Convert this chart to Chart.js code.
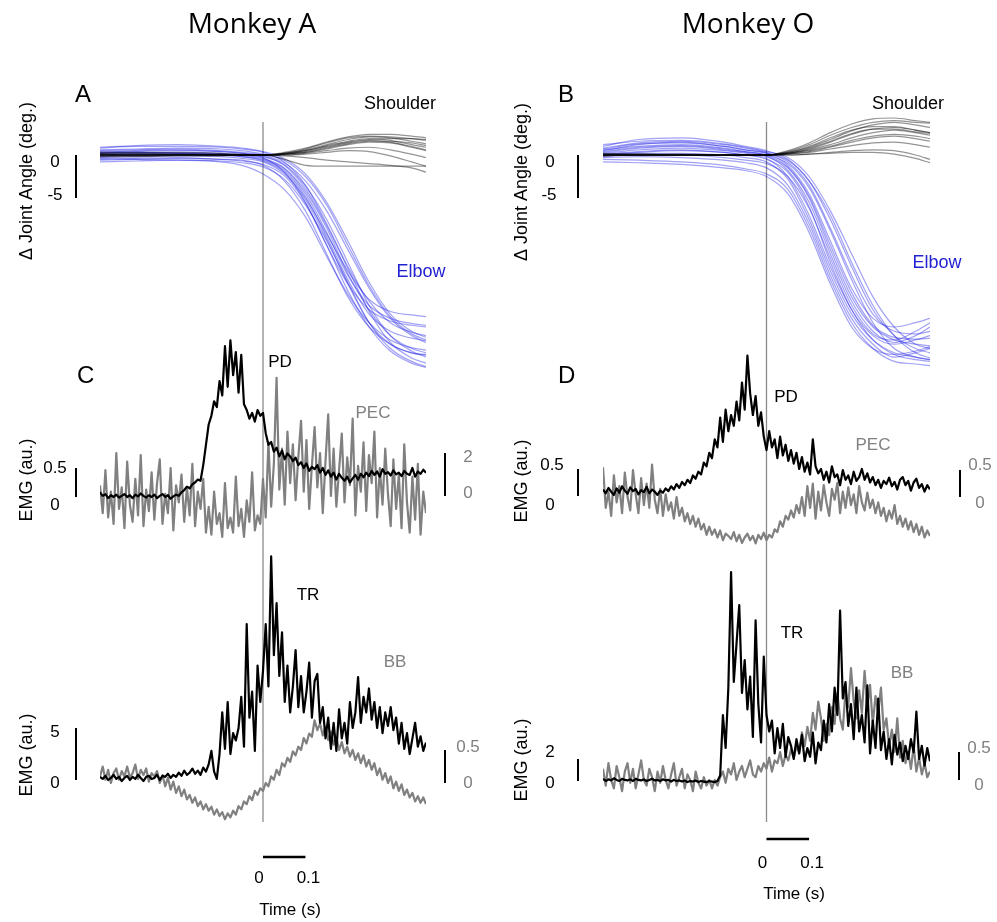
<!DOCTYPE html>
<html><head><meta charset="utf-8">
<script src="https://cdn.jsdelivr.net/npm/chart.js@4.4.1/dist/chart.umd.min.js"></script>
<style>
html,body{margin:0;padding:0;background:#fff;}
#wrap{position:relative;width:997px;height:922px;overflow:hidden;background:#fff;}
canvas{position:absolute;top:0;}
</style></head><body>
<div id="wrap">
<canvas id="cA" width="498" height="922" style="left:0;width:498px;height:922px"></canvas>
<canvas id="cO" width="499" height="922" style="left:498px;width:499px;height:922px"></canvas>
</div>
<script>
// ---------------- DATA ----------------
// joint-angle sample times (s) and traces (deg)
const ANGLE_T = [-0.384,-0.3,-0.2,-0.1,-0.05,0,0.05,0.1,0.15,0.2,0.25,0.3,0.35,0.384];

const ELBOW_A = [
 [0.3,0.5,0.6,0.4,0.2,-0.3,-2.0,-5.5,-10.5,-15,-18,-19.3,-19.8,-20],
 [-0.5,-0.4,-0.3,-0.5,-0.6,-1.2,-3.0,-6.5,-11.5,-16.5,-20,-22,-23,-23.3],
 [0.8,1.0,1.0,0.9,0.7,0.3,-0.8,-3.5,-8,-13,-17,-19.5,-20.6,-21],
 [0.2,0.3,0.2,0.1,0,-0.4,-1.5,-4.2,-8.5,-13.8,-18,-21,-22.5,-23],
 [-0.2,0,0.1,0,-0.2,-0.6,-1.8,-4.8,-9.5,-14.5,-18.5,-20.5,-21.3,-21.6],
 [0.5,0.6,0.7,0.5,0.3,0,-0.9,-3,-6.5,-11,-15.5,-19,-21,-21.8],
 [-0.8,-0.7,-0.6,-0.7,-0.9,-1.4,-2.8,-5.8,-10,-14.8,-19.5,-22.5,-24,-24.6],
 [0.1,0.2,0.3,0.2,0,-0.2,-1.1,-3.6,-7.5,-12.5,-17.5,-21,-22.8,-23.5],
 [0.4,0.3,0.2,0.1,-0.1,-0.5,-1.6,-4.5,-9,-14,-17.5,-19,-19.6,-19.8],
 [-0.3,-0.2,-0.1,-0.2,-0.4,-0.8,-2.2,-5.2,-9.8,-15,-19.5,-22,-23,-23.2],
 [0.6,0.7,0.8,0.7,0.5,0.1,-0.6,-2.5,-5.8,-10.5,-15.2,-18.8,-20.8,-21.5],
 [0,0.1,0.1,0,-0.2,-0.7,-2.0,-5.0,-9.2,-13.5,-16.8,-18.2,-18.6,-18.8],
 [-0.4,-0.5,-0.6,-0.8,-1.2,-2.2,-4.0,-7.2,-11.8,-16.2,-19.5,-21.5,-22.4,-22.7],
 [0.2,0.4,0.5,0.4,0.2,-0.1,-1.2,-3.9,-8.2,-13.2,-18.2,-21.8,-23.6,-24.2],
 [0.9,1.1,1.2,1.0,0.8,0.4,-0.4,-2.2,-5.5,-10,-14.8,-18.5,-20.5,-21.2],
 [-0.6,-0.5,-0.4,-0.5,-0.7,-1.1,-2.4,-5.6,-10.5,-15.8,-20,-22.8,-24.2,-24.7]
];
const SHOULDER_A = [
 [0,0,0,0,0,0,0.2,0.6,1.2,1.8,2.1,2.0,1.6,1.3],
 [0.1,0.1,0.1,0,0,0,0.1,0.4,0.9,1.4,1.7,1.5,1.0,0.6],
 [-0.1,-0.1,0,0,0,0,0.3,0.8,1.5,2.1,2.4,2.4,2.2,2.0],
 [0,0,0,0,0,0,0,0.2,0.5,0.8,0.9,0.6,0.1,-0.3],
 [0.2,0.2,0.1,0.1,0,0,0.2,0.5,1.0,1.5,1.8,1.9,1.9,1.8],
 [-0.2,-0.2,-0.1,-0.1,0,0,0,0.1,0.3,0.5,0.4,-0.1,-0.8,-1.3],
 [0,0,0,0,0,0,0.1,0.5,1.1,1.6,1.9,1.7,1.2,0.9],
 [0.3,0.3,0.3,0.2,0.1,0,0.1,0.3,0.7,1.2,1.5,1.4,0.9,0.5],
 [0,0,0,0,0,0,-0.1,-0.3,-0.6,-0.8,-1.0,-1.2,-1.5,-2.0],
 [0,0,0,0,0,0,-0.5,-1.2,-1.3,-1.3,-1.3,-1.3,-1.3,-1.3],
 [-0.1,0,0,0,0,0,0.2,0.7,1.4,2.0,2.2,2.1,1.9,1.7],
 [0.1,0,0,0,0,0,0.1,0.3,0.8,1.3,1.6,1.6,1.4,1.1]
];
const ELBOW_O = [
 [0.5,1.2,1.5,1.0,0.6,0.2,-1.2,-4.5,-10,-15.5,-19,-20,-19.5,-19],
 [0,0.3,0.5,0.3,0,-0.4,-2.5,-7,-13,-18,-21,-22,-21.5,-21],
 [1.0,1.8,2.0,1.5,1.0,0.5,-0.5,-3,-7.5,-13,-18,-21,-22.5,-23],
 [-0.3,-0.2,-0.3,-0.6,-0.9,-1.5,-3.5,-8,-14,-19,-22,-23.5,-23,-22.5],
 [0.2,0.6,0.8,0.5,0.2,-0.2,-1.5,-5,-11,-16.5,-20,-21.5,-22,-22.2],
 [-0.5,-0.6,-0.8,-1.2,-1.6,-2.2,-4.0,-8.5,-14.5,-19.5,-22.5,-24,-24.3,-24.5],
 [0.8,1.4,1.6,1.2,0.8,0.3,-0.8,-3.5,-8.5,-14,-18.5,-20.5,-20.8,-20.5],
 [0.3,0.8,1.0,0.6,0.3,-0.1,-1.8,-5.5,-11.5,-17,-20.5,-21.8,-21,-20],
 [0,0.2,0.2,0,-0.3,-0.8,-2.8,-7.5,-13.5,-18.5,-21.5,-23,-23.5,-23.8],
 [0.6,1.0,1.2,0.8,0.4,0,-1.0,-3.8,-8.8,-14.5,-19.5,-22.5,-23.5,-23.8],
 [-0.2,0,0,-0.3,-0.6,-1.0,-2.5,-6.2,-12,-17.5,-20.8,-21.5,-20.5,-19.5],
 [1.2,1.6,1.7,1.3,0.9,0.4,-0.3,-2.5,-6.5,-11.5,-16.5,-20,-22,-22.5],
 [0.1,0.4,0.6,0.3,0,-0.5,-2.0,-6,-12.5,-18,-21.5,-23.2,-23.8,-24],
 [-0.8,-0.9,-1.1,-1.5,-1.8,-2.5,-4.5,-9,-15,-20,-22.5,-23.2,-22.8,-22.3],
 [0.4,0.9,1.1,0.7,0.4,0,-1.4,-4.8,-10.5,-16,-19.8,-21.2,-21.4,-21.3],
 [0.7,1.3,1.4,1.0,0.6,0.2,-0.6,-3,-7,-12.5,-17.5,-21,-23,-23.6]
];
const SHOULDER_O = [
 [0,0,0,0,0,0,0.3,0.9,1.8,2.8,3.5,3.8,3.5,3.2],
 [0.1,0,0,0,0,0,0.2,0.6,1.2,2.0,2.6,2.9,2.6,2.3],
 [-0.1,0,0,0,0,0,0.4,1.2,2.3,3.2,3.8,4.0,3.8,3.7],
 [0,0,0,0,0,0,0.1,0.3,0.7,1.1,1.4,1.5,1.2,0.9],
 [0.2,0.1,0.1,0,0,0,0.2,0.7,1.5,2.4,3.0,3.2,2.9,2.6],
 [0,0,0,0,0,0,0,0.1,0.2,0.3,0.3,0.1,-0.4,-0.9],
 [0,0,0,0,0,0,0.3,1.0,2.0,2.9,3.3,3.3,2.9,2.6],
 [0.1,0.1,0,0,0,0,0.1,0.4,0.9,1.5,2.0,2.2,1.9,1.6],
 [0,0,0,0,0,0,0,0.1,0.3,0.5,0.6,0.5,0,-0.5],
 [-0.1,0,0,0,0,0,0.2,0.8,1.6,2.5,3.0,3.0,2.7,2.5],
 [0,0,0,0,0,0,0.5,1.4,2.6,3.6,4.2,4.3,4.0,3.8],
 [0,0,0,0,0,0,0.2,0.5,1.0,1.7,2.2,2.4,2.2,1.9]
];

// EMG sampling grid (s)
const EMG_T0 = -0.384;
const EMG_DT = 0.0064;

// Monkey A EMG (au.)
const PD_A = [0.08,0.02,0.05,-0.02,0.03,0.0,0.04,-0.01,0.02,0.05,
0.0,0.03,-0.02,0.04,0.01,0.06,0.02,-0.01,0.03,0.0,
0.04,-0.02,0.02,0.05,0.0,0.03,-0.03,0.01,0.04,0.02,
0.08,0.12,0.18,0.15,0.22,0.25,0.3,0.28,0.55,0.9,
1.25,1.4,1.65,1.55,2.0,1.75,2.6,1.9,2.7,2.1,
2.5,1.8,2.45,1.6,1.5,1.35,1.45,1.3,1.5,1.4,
1.45,1.1,0.9,0.95,0.78,0.85,0.7,0.8,0.65,0.75,
0.7,0.62,0.68,0.55,0.6,0.5,0.58,0.45,0.52,0.48,
0.55,0.42,0.5,0.38,0.46,0.35,0.42,0.3,0.4,0.33,
0.28,0.35,0.25,0.32,0.38,0.3,0.4,0.34,0.42,0.36,
0.45,0.38,0.44,0.35,0.48,0.4,0.43,0.37,0.46,0.39,
0.42,0.36,0.45,0.4,0.38,0.5,0.35,0.44,0.4,0.47,0.42];
const PEC_A = [0.5,-0.8,1.2,-1.0,0.2,-1.3,2.0,-0.6,0.4,-1.5,
1.6,-0.4,-1.2,0.8,-0.9,1.9,-1.4,0.3,-0.7,1.1,
-1.1,0.6,1.7,-1.3,0.1,-0.8,1.3,-1.6,0.5,-0.3,
1.0,-1.2,0.4,-0.9,1.5,-1.4,0.2,-0.6,0.8,-1.7,
-0.5,-1.8,0.2,-1.3,-0.8,-1.9,0.6,-1.5,-1.0,-1.7,
0.9,-1.4,-0.6,-1.9,-0.2,-1.2,1.1,-1.6,-0.9,-1.3,
0.8,-1.0,2.5,-0.5,1.5,5.5,0.3,2.2,-0.4,3.0,
0.6,2.4,-0.2,1.8,3.5,0.2,2.6,-0.6,1.4,3.2,
0.4,2.0,-0.8,1.6,3.8,0.0,2.2,-0.5,1.2,2.9,
-0.3,1.8,0.5,3.6,-0.9,1.4,0.2,2.5,-0.7,1.9,
0.6,3.0,-1.0,1.3,-0.4,2.2,0.1,-1.4,1.7,-0.6,
1.0,-1.5,2.4,-0.3,-1.7,0.9,-1.1,1.5,-1.8,0.2,-0.8];
const TR_A = [0.3,0.1,0.4,0.0,0.2,0.5,0.1,0.3,-0.1,0.2,
0.4,0.0,0.3,0.1,0.5,0.2,-0.1,0.3,0.4,0.1,
0.2,0.5,0.0,0.4,0.3,0.6,0.2,0.5,0.3,0.7,
0.4,0.9,0.5,0.7,1.1,0.6,0.9,0.5,1.2,0.8,
1.5,2.8,0.8,0.1,2.5,6.5,3.0,7.5,2.5,4.5,
3.8,5.0,8.0,3.2,15.0,6.0,8.5,2.8,11.0,7.5,
10.5,15.0,9.0,21.5,12.0,17.0,10.0,14.2,7.5,11.0,
6.5,9.0,12.5,7.0,10.0,6.5,8.5,11.3,6.0,9.5,
10.2,5.5,7.0,4.0,6.0,3.0,5.5,2.8,6.8,4.0,
5.5,3.5,7.5,5.0,6.5,9.9,5.5,8.0,6.5,8.8,
5.8,7.5,5.0,7.0,4.5,6.5,5.2,7.0,4.8,6.0,
3.5,5.5,3.0,4.5,2.5,4.0,5.5,3.2,4.2,2.8,3.6];
const BB_A = [0.1,0.25,0.05,0.2,0.0,0.15,0.22,0.05,0.18,0.1,
0.25,0.08,0.15,0.28,0.06,0.2,0.12,0.22,0.02,0.15,
0.1,0.18,0.0,0.12,-0.05,0.08,-0.1,0.02,-0.15,-0.05,
-0.2,-0.1,-0.25,-0.18,-0.3,-0.22,-0.35,-0.28,-0.4,-0.32,
-0.42,-0.36,-0.48,-0.4,-0.5,-0.44,-0.55,-0.46,-0.52,-0.42,
-0.48,-0.35,-0.4,-0.28,-0.32,-0.2,-0.26,-0.12,-0.18,-0.08,
-0.12,0.0,-0.05,0.1,0.05,0.2,0.12,0.3,0.25,0.38,
0.32,0.48,0.42,0.55,0.5,0.68,0.6,0.75,0.7,0.95,
0.8,0.9,0.72,0.85,0.65,0.78,0.58,0.7,0.5,0.62,
0.45,0.55,0.4,0.5,0.35,0.45,0.3,0.42,0.25,0.35,
0.2,0.3,0.12,0.22,0.05,0.15,0.0,0.1,-0.08,0.02,
-0.12,-0.02,-0.18,-0.1,-0.22,-0.15,-0.28,-0.2,-0.3,-0.22,-0.32];

// Monkey O EMG (au.)
const PD_O = [0.12,0.05,0.15,0.08,0.02,0.14,0.06,0.18,0.1,0.04,
0.16,0.09,0.13,0.03,0.11,0.07,0.17,0.05,0.12,0.08,
0.02,0.1,0.06,0.14,0.09,0.18,0.12,0.22,0.15,0.26,
0.2,0.3,0.24,0.38,0.32,0.45,0.4,0.62,0.55,0.8,
0.7,1.05,0.9,1.45,1.0,1.6,1.2,1.5,1.3,1.75,
1.4,2.1,1.6,2.6,1.9,1.5,1.85,1.3,1.55,1.1,
0.85,1.2,0.9,1.05,0.7,1.1,0.75,0.95,0.65,0.85,
0.6,0.8,0.5,0.72,0.45,0.62,0.4,1.05,0.55,0.42,
0.5,0.3,0.45,0.25,0.55,0.35,0.4,0.2,0.48,0.3,
0.38,0.22,0.45,0.28,0.35,0.5,0.3,0.42,0.25,0.35,
0.2,0.3,0.15,0.28,0.22,0.34,0.18,0.26,0.12,0.3,
0.35,0.2,0.28,0.1,0.25,0.32,0.15,0.22,0.08,0.2,0.12];
const PEC_O = [0.55,-0.2,0.1,-0.35,0.4,-0.1,0.2,-0.3,0.45,0.0,
-0.25,0.5,0.05,-0.3,0.35,-0.15,0.25,-0.2,0.6,-0.05,
-0.3,0.15,-0.35,0.05,-0.25,-0.1,-0.4,0.0,-0.35,-0.2,
-0.45,-0.3,-0.5,-0.35,-0.55,-0.4,-0.6,-0.5,-0.7,-0.55,
-0.7,-0.6,-0.75,-0.62,-0.8,-0.68,-0.72,-0.78,-0.65,-0.82,
-0.7,-0.85,-0.75,-0.68,-0.8,-0.72,-0.86,-0.7,-0.78,-0.66,
-0.8,-0.7,-0.75,-0.6,-0.65,-0.45,-0.55,-0.35,-0.42,-0.25,
-0.38,-0.15,-0.3,0.0,-0.35,0.2,-0.2,0.25,-0.4,0.1,
-0.25,0.22,-0.1,-0.35,0.15,-0.05,0.26,-0.3,0.1,-0.2,
0.18,-0.15,0.05,-0.3,0.2,-0.1,-0.25,0.08,-0.2,-0.05,
-0.3,-0.1,-0.35,-0.2,-0.45,-0.25,-0.4,-0.15,-0.5,-0.35,
-0.55,-0.4,-0.6,-0.45,-0.65,-0.5,-0.7,-0.55,-0.75,-0.62,-0.72];
const TR_O = [0.2,0.0,0.15,0.05,0.25,0.1,0.0,0.2,0.1,0.05,
0.15,0.0,0.2,0.1,0.05,0.15,0.0,0.1,0.2,0.05,
0.1,0.0,0.15,0.05,0.1,-0.05,0.1,0.0,0.05,-0.05,
0.05,-0.1,0.0,-0.05,0.05,-0.1,0.0,-0.05,-0.1,0.0,
-0.05,-0.1,0.0,0.5,6.0,3.0,8.5,19.0,9.0,12.5,
16.0,8.0,11.0,6.5,9.5,4.0,14.6,7.0,3.5,11.3,
6.0,4.5,5.5,2.5,4.8,3.0,5.2,2.2,4.0,3.2,
2.0,3.8,2.5,4.2,1.8,3.0,2.2,4.4,1.6,3.5,
2.8,5.5,3.5,7.0,4.5,8.5,6.0,15.5,7.5,9.0,
5.0,7.0,3.8,8.5,4.5,6.0,3.5,8.7,2.5,5.5,
3.0,7.5,2.8,4.5,2.0,3.8,1.5,4.2,2.4,3.5,
1.8,3.2,2.0,3.8,2.6,6.3,2.0,3.2,1.4,3.0,1.8];
const BB_O = [0.2,-0.1,0.3,0.0,-0.15,0.25,0.05,-0.2,0.15,0.3,
-0.05,0.2,-0.15,0.1,0.35,0.0,-0.1,0.2,0.05,-0.2,
0.15,-0.05,0.25,0.0,-0.15,0.1,0.3,-0.1,0.05,0.2,
-0.15,0.1,0.0,-0.2,0.15,-0.05,-0.15,0.05,-0.1,0.0,
-0.15,0.0,-0.1,0.05,0.15,-0.05,0.2,0.1,0.3,0.0,
0.15,0.25,0.05,0.2,0.35,0.1,0.05,0.25,0.15,0.3,
0.2,0.4,0.15,0.35,0.3,0.5,0.25,0.45,0.35,0.55,
0.4,0.6,0.5,0.85,0.6,0.95,0.7,1.2,0.9,1.4,
1.1,0.7,1.0,0.8,1.3,1.0,1.55,1.1,0.9,1.6,
1.3,2.0,1.4,1.1,1.6,1.2,1.95,1.3,1.7,1.0,
1.5,1.2,1.65,0.9,1.1,0.6,0.9,0.5,1.1,0.4,
0.7,0.3,0.5,0.2,0.6,0.15,0.4,0.1,0.3,0.05,0.15];

// scale-bar values and labels
const TIME_BAR = [0, 0.1];
const TIME_TICKS = ['0', '0.1'];

// ---------------- LAYOUT ----------------
const PLOT_TOP = 95, PLOT_BOTTOM = 835;
const T_MIN = -0.384, T_MAX = 0.384;
const FONT = '"Liberation Sans", Arial, sans-serif';
const BLUE = 'rgb(34,34,210)';
const GREY = '#808080';
const TICK = '17px ' + FONT;

const COLS = [
 { id:'cA', offset:0, pad:{left:100,right:72,top:PLOT_TOP,bottom:922-PLOT_BOTTOM},
   axes:{ ang:{zero:155,k:8.6}, pd:{zero:497,k:58}, pec:{zero:496,k:21.5}, tr:{zero:780,k:10.4}, bb:{zero:783,k:66} },
   elbow:ELBOW_A, shoulder:SHOULDER_A, pd:PD_A, pec:PEC_A, tr:TR_A, bb:BB_A,
   bars:[ {axis:'ang',x:76,v:-5}, {axis:'pd',x:76,v:0.5}, {axis:'pec',x:445,v:2}, {axis:'tr',x:76,v:5}, {axis:'bb',x:445,v:0.5} ],
   timeBarY:857, timeTickY:883, timeLabel:{x:290,y:915},
   texts:[
    {t:'Monkey A', x:252, y:33, f:'28px "Open Sans", "Noto Sans", sans-serif'},
    {t:'A', x:75, y:102, f:'24px '+FONT, a:'left'},
    {t:'C', x:77, y:383, f:'24px '+FONT, a:'left'},
    {t:'Shoulder', x:400, y:109, f:'18px '+FONT},
    {t:'Elbow', x:421, y:277, f:'18px '+FONT, c:BLUE},
    {t:'PD', x:280, y:367, f:'17px '+FONT},
    {t:'PEC', x:373, y:418, f:'17px '+FONT, c:GREY},
    {t:'TR', x:308, y:600, f:'17px '+FONT},
    {t:'BB', x:395, y:667, f:'17px '+FONT, c:GREY},
    {t:'0', x:55, y:167, f:TICK}, {t:'-5', x:55, y:200, f:TICK},
    {t:'0.5', x:55, y:473, f:TICK}, {t:'0', x:55, y:510, f:TICK},
    {t:'2', x:468, y:462, f:TICK, c:GREY}, {t:'0', x:468, y:498, f:TICK, c:GREY},
    {t:'5', x:55, y:737, f:TICK}, {t:'0', x:55, y:788, f:TICK},
    {t:'0.5', x:468, y:752, f:TICK, c:GREY}, {t:'0', x:468, y:788, f:TICK, c:GREY},
    {t:'\u0394 Joint Angle (deg.)', x:32, y:181, f:'18px '+FONT, r:true},
    {t:'EMG (au.)', x:32, y:480, f:'18px '+FONT, r:true},
    {t:'EMG (au.)', x:32, y:755, f:'18px '+FONT, r:true}
   ]
 },
 { id:'cO', offset:498, pad:{left:105,right:67,top:PLOT_TOP,bottom:922-PLOT_BOTTOM},
   axes:{ ang:{zero:155,k:8.6}, pd:{zero:496,k:54}, pec:{zero:497,k:54}, tr:{zero:781,k:11}, bb:{zero:780,k:56} },
   elbow:ELBOW_O, shoulder:SHOULDER_O, pd:PD_O, pec:PEC_O, tr:TR_O, bb:BB_O,
   bars:[ {axis:'ang',x:578,v:-5}, {axis:'pd',x:578,v:0.5}, {axis:'pec',x:960,v:0.5}, {axis:'tr',x:578,v:2}, {axis:'bb',x:959,v:0.5} ],
   timeBarY:839, timeTickY:868, timeLabel:{x:794,y:899},
   texts:[
    {t:'Monkey O', x:748, y:33, f:'28px "Open Sans", "Noto Sans", sans-serif'},
    {t:'B', x:558, y:102, f:'24px '+FONT, a:'left'},
    {t:'D', x:558, y:383, f:'24px '+FONT, a:'left'},
    {t:'Shoulder', x:908, y:109, f:'18px '+FONT},
    {t:'Elbow', x:937, y:268, f:'18px '+FONT, c:BLUE},
    {t:'PD', x:786, y:402, f:'17px '+FONT},
    {t:'PEC', x:873, y:450, f:'17px '+FONT, c:GREY},
    {t:'TR', x:792, y:638, f:'17px '+FONT},
    {t:'BB', x:902, y:678, f:'17px '+FONT, c:GREY},
    {t:'0', x:550, y:167, f:TICK}, {t:'-5', x:549, y:200, f:TICK},
    {t:'0.5', x:552, y:470, f:TICK}, {t:'0', x:550, y:510, f:TICK},
    {t:'0.5', x:980, y:470, f:TICK, c:GREY}, {t:'0', x:980, y:508, f:TICK, c:GREY},
    {t:'2', x:550, y:757, f:TICK}, {t:'0', x:550, y:788, f:TICK},
    {t:'0.5', x:979, y:753, f:TICK, c:GREY}, {t:'0', x:979, y:790, f:TICK, c:GREY},
    {t:'\u0394 Joint Angle (deg.)', x:527, y:182, f:'18px '+FONT, r:true},
    {t:'EMG (au.)', x:527, y:481, f:'18px '+FONT, r:true},
    {t:'EMG (au.)', x:527, y:760, f:'18px '+FONT, r:true}
   ]
 }
];

// ---------------- BUILD ----------------
function angleSeries(vals){ return vals.map((v,i)=>({x:ANGLE_T[i], y:v})); }
function emgSeries(vals){ return vals.map((v,i)=>({x:EMG_T0 + i*EMG_DT, y:v})); }

function makeDeco(col){
  return {
    id:'deco',
    beforeDatasetsDraw(chart){
      const ctx = chart.ctx, sx = chart.scales.x;
      const x0 = sx.getPixelForValue(0);
      ctx.save();
      ctx.strokeStyle = '#8a8a8a'; ctx.lineWidth = 1.3;
      ctx.beginPath(); ctx.moveTo(x0, 122); ctx.lineTo(x0, 822); ctx.stroke();
      ctx.restore();
    },
    afterDraw(chart){
      const ctx = chart.ctx, sx = chart.scales.x, off = col.offset;
      ctx.save();
      ctx.strokeStyle = '#000'; ctx.lineWidth = 2; ctx.lineCap = 'butt';
      col.bars.forEach(b=>{
        const s = chart.scales[b.axis];
        ctx.beginPath();
        ctx.moveTo(b.x - off, s.getPixelForValue(0));
        ctx.lineTo(b.x - off, s.getPixelForValue(b.v));
        ctx.stroke();
      });
      const tx0 = sx.getPixelForValue(TIME_BAR[0]), tx1 = sx.getPixelForValue(TIME_BAR[1]);
      ctx.lineWidth = 2.5;
      ctx.beginPath(); ctx.moveTo(tx0, col.timeBarY); ctx.lineTo(tx1, col.timeBarY); ctx.stroke();
      ctx.fillStyle = '#000'; ctx.textAlign = 'center'; ctx.textBaseline = 'alphabetic';
      ctx.font = TICK;
      ctx.fillText(TIME_TICKS[0], tx0 - 4, col.timeTickY);
      ctx.fillText(TIME_TICKS[1], tx1 + 3, col.timeTickY);
      ctx.fillText('Time (s)', col.timeLabel.x - off, col.timeLabel.y);
      col.texts.forEach(o=>{
        ctx.font = o.f; ctx.fillStyle = o.c || '#000';
        ctx.textAlign = o.a || 'center'; ctx.textBaseline = 'alphabetic';
        if (o.r){
          ctx.save(); ctx.translate(o.x - off, o.y); ctx.rotate(-Math.PI/2);
          ctx.fillText(o.t, 0, 0); ctx.restore();
        } else {
          ctx.fillText(o.t, o.x - off, o.y);
        }
      });
      ctx.restore();
    }
  };
}

COLS.forEach(col=>{
  const datasets = [];
  datasets.push({data:emgSeries(col.tr), yAxisID:'tr', borderColor:'#000', borderWidth:2.2, order:0});
  datasets.push({data:emgSeries(col.bb), yAxisID:'bb', borderColor:GREY, borderWidth:2.2, order:1});
  datasets.push({data:emgSeries(col.pd), yAxisID:'pd', borderColor:'#000', borderWidth:2.2, order:0});
  datasets.push({data:emgSeries(col.pec), yAxisID:'pec', borderColor:GREY, borderWidth:2.2, order:1});
  col.shoulder.forEach(tr=>datasets.push({data:angleSeries(tr), yAxisID:'ang', borderColor:'rgba(0,0,0,0.42)', borderWidth:1.2, cubicInterpolationMode:'monotone', order:2}));
  col.elbow.forEach(tr=>datasets.push({data:angleSeries(tr), yAxisID:'ang', borderColor:'rgba(30,30,230,0.42)', borderWidth:1.2, cubicInterpolationMode:'monotone', order:3}));
  datasets.forEach(d=>{ d.pointRadius = 0; d.fill = false; d.borderJoinStyle = 'round'; if(!d.cubicInterpolationMode) d.tension = 0; });

  const scales = { x:{type:'linear', min:T_MIN, max:T_MAX, display:false, bounds:'data'} };
  Object.entries(col.axes).forEach(([id,a])=>{
    scales[id] = {type:'linear', display:false, bounds:'data',
      min: -(PLOT_BOTTOM - a.zero)/a.k, max: (a.zero - PLOT_TOP)/a.k};
  });

  new Chart(document.getElementById(col.id), {
    type:'line',
    data:{datasets},
    options:{
      responsive:false, animation:false, devicePixelRatio:1, events:[],
      layout:{padding:col.pad},
      scales,
      plugins:{legend:{display:false}, tooltip:{enabled:false}}
    },
    plugins:[makeDeco(col)]
  });
});
</script>
</body></html>
